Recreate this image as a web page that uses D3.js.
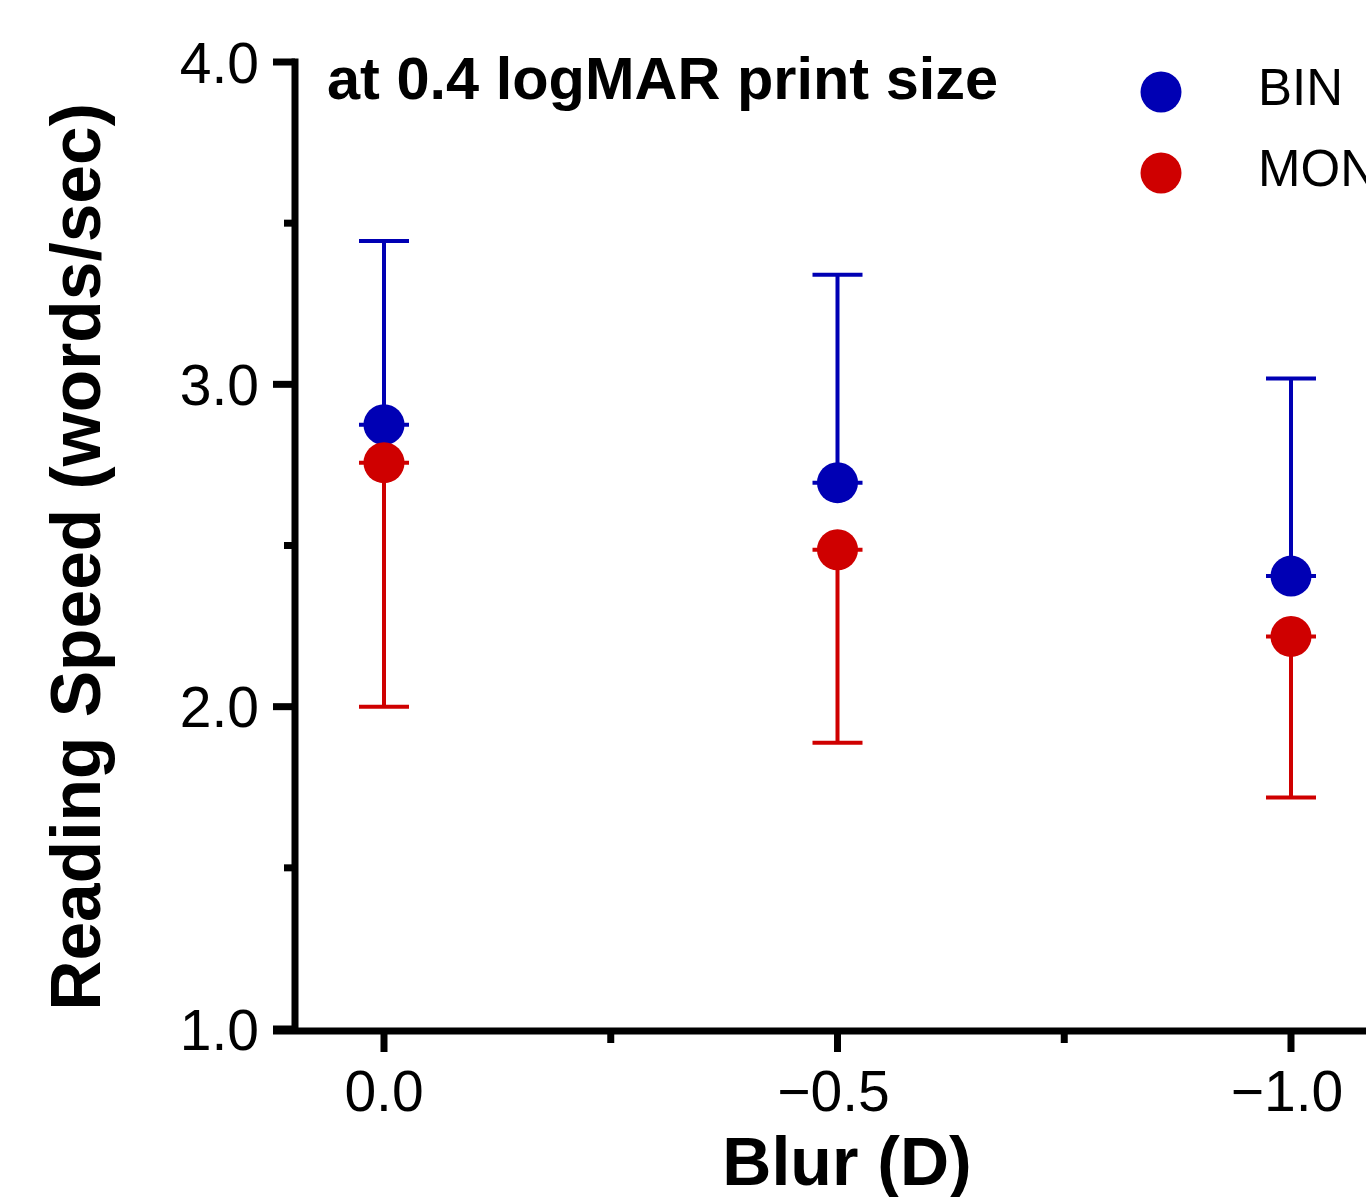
<!DOCTYPE html>
<html>
<head>
<meta charset="utf-8">
<script src="https://cdn.jsdelivr.net/npm/d3@7"></script>
<style>
  html, body { margin: 0; padding: 0; background: #fff; }
  svg { display: block; font-family: "Liberation Sans", Arial, Helvetica, sans-serif; }
</style>
</head>
<body>
<svg id="chart" width="1366" height="1197"></svg>
<script>
// blur levels (D) on the x axis
const blurLevels = [0.0, -0.5, -1.0]
const blurLabels = ['0.0', '\u22120.5', '\u22121.0']

// mean reading speed (words/sec) and error bar ends
const binMean = [2.875, 2.695, 2.405]
const binUpper = [3.445, 3.34, 3.018]
const monoMean = [2.757, 2.487, 2.218]
const monoLower = [2.0, 1.888, 1.718]

const yTicks = [1.0, 2.0, 3.0, 4.0]
const yMinorTicks = [1.5, 2.5, 3.5]
const xMinorTicks = [-0.25, -0.75]

const legendItems = ['BIN', 'MONO']
const colors = {BIN: '#0000b4', MONO: '#cf0000'}

const svg = d3.select('#chart')

const x = d3.scaleLinear().domain([0, -1]).range([384, 1291])
const y = d3.scaleLinear().domain([1, 4]).range([1029, 62])

const axisX = 295
const axisY = 1031
const stroke = 7

// y axis
const gy = svg.append('g').attr('class', 'axis y')
gy.append('line')
  .attr('x1', axisX).attr('x2', axisX)
  .attr('y1', y(4) - stroke / 2).attr('y2', axisY)
  .attr('stroke', '#000').attr('stroke-width', stroke)
gy.selectAll('.major').data(yTicks).enter().append('line')
  .attr('x1', 273).attr('x2', axisX)
  .attr('y1', d => y(d)).attr('y2', d => y(d))
  .attr('stroke', '#000').attr('stroke-width', stroke)
gy.selectAll('.minor').data(yMinorTicks).enter().append('line')
  .attr('x1', 284).attr('x2', axisX)
  .attr('y1', d => y(d)).attr('y2', d => y(d))
  .attr('stroke', '#000').attr('stroke-width', stroke)
gy.selectAll('text').data(yTicks).enter().append('text')
  .attr('x', 259).attr('y', d => y(d))
  .attr('dy', '0.36em')
  .attr('text-anchor', 'end')
  .attr('font-size', 57)
  .text(d => d.toFixed(1))

// x axis
const gx = svg.append('g').attr('class', 'axis x')
gx.append('line')
  .attr('x1', 273).attr('x2', 1400)
  .attr('y1', axisY).attr('y2', axisY)
  .attr('stroke', '#000').attr('stroke-width', stroke)
gx.selectAll('.major').data(blurLevels).enter().append('line')
  .attr('x1', d => x(d)).attr('x2', d => x(d))
  .attr('y1', axisY).attr('y2', 1052)
  .attr('stroke', '#000').attr('stroke-width', stroke)
gx.selectAll('.minor').data(xMinorTicks).enter().append('line')
  .attr('x1', d => x(d)).attr('x2', d => x(d))
  .attr('y1', axisY).attr('y2', 1043)
  .attr('stroke', '#000').attr('stroke-width', stroke)
gx.selectAll('text').data(blurLevels).enter().append('text')
  .attr('x', (d, i) => x(d) - (i ? 4 : 0)).attr('y', 1111)
  .attr('text-anchor', 'middle')
  .attr('font-size', 57)
  .text((d, i) => blurLabels[i])

// axis titles
svg.append('text')
  .attr('x', 847).attr('y', 1185)
  .attr('text-anchor', 'middle')
  .attr('font-size', 68).attr('font-weight', 'bold')
  .text('Blur (D)')
svg.append('text')
  .attr('transform', 'translate(100,557) rotate(-90)')
  .attr('text-anchor', 'middle')
  .attr('font-size', 69.5).attr('font-weight', 'bold')
  .text('Reading Speed (words/sec)')

svg.append('text')
  .attr('x', 327).attr('y', 99)
  .attr('font-size', 59.5).attr('font-weight', 'bold')
  .text('at 0.4 logMAR print size')

// error bars + points
const capHalf = 25
function drawSeries (name, means, ends) {
  const g = svg.append('g').attr('class', 'series ' + name)
  const c = colors[name]
  const rows = blurLevels.map((b, i) => ({b, m: means[i], e: ends[i]}))
  g.selectAll('.stem').data(rows).enter().append('line')
    .attr('x1', d => x(d.b)).attr('x2', d => x(d.b))
    .attr('y1', d => y(d.m)).attr('y2', d => y(d.e))
    .attr('stroke', c).attr('stroke-width', 4)
  g.selectAll('.cap').data(rows).enter().append('line')
    .attr('x1', d => x(d.b) - capHalf).attr('x2', d => x(d.b) + capHalf)
    .attr('y1', d => y(d.e)).attr('y2', d => y(d.e))
    .attr('stroke', c).attr('stroke-width', 4)
  g.selectAll('.mid').data(rows).enter().append('line')
    .attr('x1', d => x(d.b) - capHalf).attr('x2', d => x(d.b) + capHalf)
    .attr('y1', d => y(d.m)).attr('y2', d => y(d.m))
    .attr('stroke', c).attr('stroke-width', 4)
  g.selectAll('circle').data(rows).enter().append('circle')
    .attr('cx', d => x(d.b)).attr('cy', d => y(d.m))
    .attr('r', 20.5).attr('fill', c)
}
drawSeries('BIN', binMean, binUpper)
drawSeries('MONO', monoMean, monoLower)

// legend
const lg = svg.append('g').attr('class', 'legend')
const li = lg.selectAll('g').data(legendItems).enter().append('g')
  .attr('transform', (d, i) => `translate(0,${92 + i * 81})`)
li.append('circle').attr('cx', 1161).attr('cy', 0).attr('r', 20.5)
  .attr('fill', d => colors[d])
li.append('text').attr('x', 1258).attr('y', 13)
  .attr('font-size', 51)
  .text(d => d)
</script>
</body>
</html>
